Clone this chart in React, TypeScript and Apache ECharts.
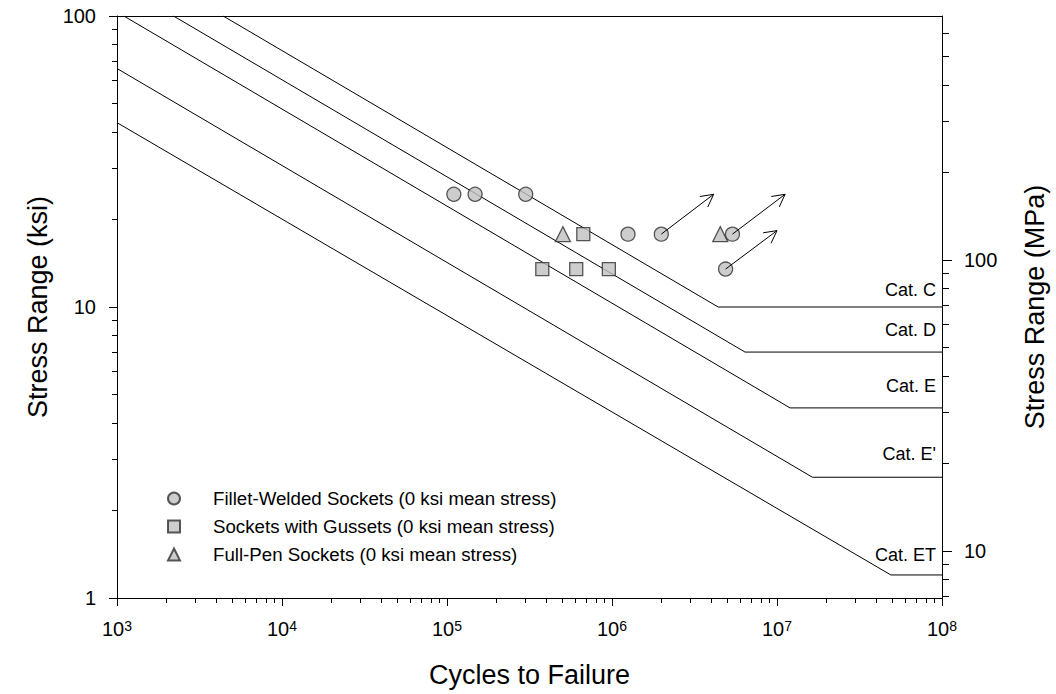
import React, { useEffect, useRef } from "react";
import * as echarts from "echarts";

const FONT = "'Liberation Sans', Arial, sans-serif";

// Axis ticks
const xMajor = [1e3, 1e4, 1e5, 1e6, 1e7, 1e8];
const minorMult = [2, 3, 4, 5, 6, 7, 8, 9];
const xDecades = [1e3, 1e4, 1e5, 1e6, 1e7];
const xMinor = xDecades.flatMap((d) => minorMult.map((m) => m * d));
const ksiMajor = [1, 10, 100];
const ksiMinor = [1, 10].flatMap((d) => minorMult.map((m) => m * d));
const mpaMajor = [10, 100];
const mpaMinor = [7, 8, 9, 20, 30, 40, 50, 60, 70, 80, 90, 200, 300, 400, 500, 600];

// Fatigue category curves: [cycles, ksi]
const catC = [[4.4e3, 100], [4.4e6, 10], [1e8, 10]];
const catD = [[2.2e3, 100], [6.4e6, 7], [1e8, 7]];
const catE = [[1.1e3, 100], [1.2e7, 4.5], [1e8, 4.5]];
const catEp = [[1e3, 66], [1.64e7, 2.6], [1e8, 2.6]];
const catET = [[1e3, 43], [4.9e7, 1.2], [1e8, 1.2]];
const catNames = ["Cat. C", "Cat. D", "Cat. E", "Cat. E'", "Cat. ET"];
const catLabelLift = [-8, -13, -13, -14, -11];

// Test data: [cycles, ksi]
const filletWelded = [
  [1.1e5, 24.4], [1.48e5, 24.4], [3.0e5, 24.4],
  [1.25e6, 17.8], [1.99e6, 17.8], [5.37e6, 17.8],
  [4.88e6, 13.5],
];
const gussets = [
  [6.7e5, 17.8],
  [3.78e5, 13.5], [6.07e5, 13.5], [9.57e5, 13.5],
];
const fullPen = [[5.04e5, 17.8], [4.53e6, 17.8]];
// Run-outs: [cycles0, ksi0, cycles1, ksi1]
const runouts = [
  [1.99e6, 17.8, 4.13e6, 24.4],
  [5.37e6, 17.8, 1.12e7, 24.4],
  [4.88e6, 13.5, 1.0e7, 18.3],
];

const markerStyle = { color: "#c0c0c0", borderColor: "#2e2e2e", borderWidth: 1.3 };

export default function App() {
  const ref = useRef<HTMLDivElement>(null);
  useEffect(() => {
    const chart = echarts.init(ref.current!, null, { renderer: "svg" });
    const catSeries = [catC, catD, catE, catEp, catET].map((d, i) => ({
      type: "line",
      name: catNames[i],
      data: d,
      xAxisIndex: 0,
      yAxisIndex: 0,
      symbol: "none",
      lineStyle: { color: "#000", width: 1 },
      silent: true,
      endLabel: {
        show: true,
        formatter: catNames[i],
        align: "right",
        verticalAlign: "bottom",
        offset: [-6, catLabelLift[i]],
        distance: 0,
        fontFamily: FONT,
        fontSize: 18,
        color: "#000",
      },
      z: 1,
    }));
    const baseX = {
      type: "log",
      logBase: 10,
      min: 1e3,
      max: 1e8,
      gridIndex: 0,
      splitLine: { show: false },
    };
    const baseKsi = { type: "log", logBase: 10, min: 1, max: 100, splitLine: { show: false } };
    const baseMpa = { type: "log", logBase: 10, min: 6.895, max: 689.5, splitLine: { show: false } };
    const option: any = {
      animation: false,
      backgroundColor: "#fff",
      grid: { left: 117, right: 112, top: 16, bottom: 96, containLabel: false },
      legend: {
        orient: "vertical",
        left: 162,
        top: 484,
        itemGap: 9,
        itemWidth: 12,
        itemHeight: 12,
        data: [
          "Fillet-Welded Sockets (0 ksi mean stress)",
          "Sockets with Gussets (0 ksi mean stress)",
          "Full-Pen Sockets (0 ksi mean stress)",
        ],
        textStyle: { fontFamily: FONT, fontSize: 18.7, color: "#000", padding: [0, 0, 0, 28] },
      },
      xAxis: [
        {
          ...baseX,
          position: "bottom",
          axisLine: { show: true, lineStyle: { color: "#000", width: 1 } },
          axisTick: { show: true, length: 8, customValues: xMajor, lineStyle: { color: "#000" } },
          axisLabel: {
            customValues: xMajor,
            margin: 21,
            color: "#000",
            fontFamily: FONT,
            fontSize: 20,
            formatter: (v: number) => "10{s|" + Math.round(Math.log10(v)) + "}",
            rich: { s: { fontSize: 14, fontFamily: FONT, verticalAlign: "top", color: "#000" } },
          },
          name: "Cycles to Failure",
          nameLocation: "middle",
          nameGap: 63,
          nameTextStyle: { fontFamily: FONT, fontSize: 27, color: "#000" },
        },
        {
          ...baseX,
          position: "bottom",
          axisLine: { show: false },
          axisTick: { show: true, length: 5, customValues: xMinor, lineStyle: { color: "#000" } },
          axisLabel: { show: false },
        },
        {
          ...baseX,
          position: "top",
          axisLine: { show: true, lineStyle: { color: "#000", width: 1 } },
          axisTick: { show: false },
          axisLabel: { show: false },
        },
      ],
      yAxis: [
        {
          ...baseKsi,
          position: "left",
          axisLine: { show: true, lineStyle: { color: "#000", width: 1 } },
          axisTick: { show: true, length: 8, customValues: ksiMajor, lineStyle: { color: "#000" } },
          axisLabel: {
            customValues: ksiMajor,
            margin: 21,
            color: "#000",
            fontFamily: FONT,
            fontSize: 20,
            formatter: (v: number) => String(Math.round(v)),
          },
          name: "Stress Range (ksi)",
          nameLocation: "middle",
          nameGap: 63,
          nameRotate: 90,
          nameTextStyle: { fontFamily: FONT, fontSize: 27, color: "#000" },
        },
        {
          ...baseKsi,
          position: "left",
          axisLine: { show: false },
          axisTick: { show: true, length: 5, customValues: ksiMinor, lineStyle: { color: "#000" } },
          axisLabel: { show: false },
        },
        {
          ...baseMpa,
          position: "right",
          axisLine: { show: true, lineStyle: { color: "#000", width: 1 } },
          axisTick: { show: true, length: 10, customValues: mpaMajor, lineStyle: { color: "#000" } },
          axisLabel: {
            customValues: mpaMajor,
            margin: 22,
            color: "#000",
            fontFamily: FONT,
            fontSize: 20,
            formatter: (v: number) => String(Math.round(v)),
          },
          name: "Stress Range (MPa)",
          nameLocation: "middle",
          nameGap: 79,
          nameRotate: 90,
          nameTextStyle: { fontFamily: FONT, fontSize: 27, color: "#000" },
        },
        {
          ...baseMpa,
          position: "right",
          axisLine: { show: false },
          axisTick: { show: true, length: 7, customValues: mpaMinor, lineStyle: { color: "#000" } },
          axisLabel: { show: false },
        },
      ],
      series: [
        ...catSeries,
        {
          type: "scatter",
          name: "Fillet-Welded Sockets (0 ksi mean stress)",
          data: filletWelded,
          symbol: "circle",
          symbolSize: 14,
          itemStyle: markerStyle,
          z: 3,
        },
        {
          type: "scatter",
          name: "Sockets with Gussets (0 ksi mean stress)",
          data: gussets,
          symbol: "rect",
          symbolSize: 13,
          itemStyle: markerStyle,
          z: 3,
        },
        {
          type: "scatter",
          name: "Full-Pen Sockets (0 ksi mean stress)",
          data: fullPen,
          symbol: "triangle",
          symbolSize: 15,
          itemStyle: markerStyle,
          z: 3,
        },
        {
          type: "custom",
          name: "runouts",
          data: runouts,
          encode: { x: [0, 2], y: [1, 3] },
          z: 4,
          silent: true,
          renderItem: (params: any, api: any) => {
            const p0 = api.coord([api.value(0), api.value(1)]);
            const p1 = api.coord([api.value(2), api.value(3)]);
            const ang = Math.atan2(p1[1] - p0[1], p1[0] - p0[0]);
            const L = 14;
            const a = (28 * Math.PI) / 180;
            const h1 = [p1[0] - L * Math.cos(ang - a), p1[1] - L * Math.sin(ang - a)];
            const h2 = [p1[0] - L * Math.cos(ang + a), p1[1] - L * Math.sin(ang + a)];
            const st = { stroke: "#000", lineWidth: 1, fill: null };
            return {
              type: "group",
              children: [
                { type: "line", shape: { x1: p0[0], y1: p0[1], x2: p1[0], y2: p1[1] }, style: st },
                { type: "polyline", shape: { points: [h1, p1, h2] }, style: st },
              ],
            };
          },
        },
      ],
    };
    chart.setOption(option);
    return () => chart.dispose();
  }, []);
  return (
    <div
      ref={ref}
      style={{ position: "fixed", left: 0, top: 0, width: 1056, height: 694, background: "#fff" }}
    />
  );
}
